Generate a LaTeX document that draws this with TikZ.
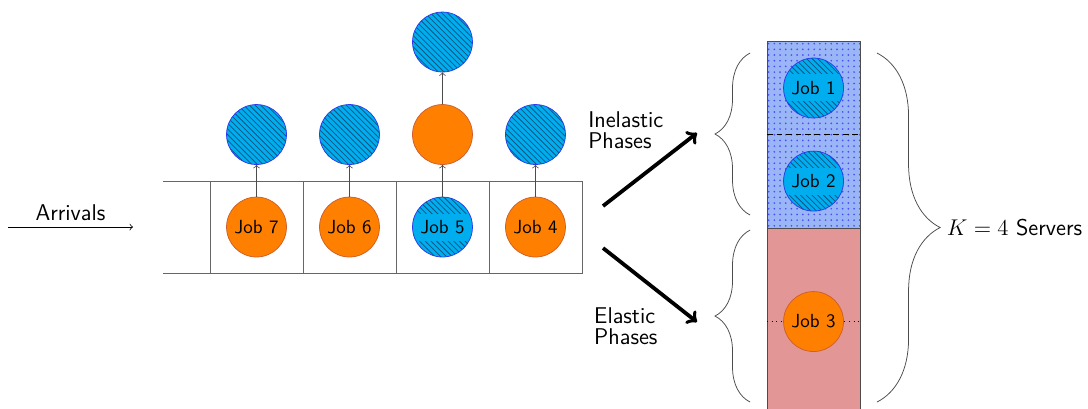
\documentclass[tikz,border=0pt]{standalone}
\usepackage{amsmath}
\usepackage{tikz}
\usetikzlibrary{positioning,decorations.pathreplacing,shapes,arrows,patterns}
\definecolor{jobblue}{RGB}{0,174,239}
\definecolor{hatchblue}{RGB}{10,85,130}
\definecolor{jobedge}{RGB}{45,60,235}
\definecolor{joborange}{RGB}{255,128,0}
\definecolor{orangeedge}{RGB}{205,95,45}
\definecolor{inelfill}{RGB}{155,182,246}
\definecolor{elfill}{RGB}{226,150,150}
\tikzstyle{ela}=[circle, draw=orangeedge, fill=joborange, minimum size=1.11cm, inner sep=0pt]
\tikzstyle{inel}=[circle, draw=jobedge, preaction={fill=jobblue}, pattern=north west lines, pattern color=hatchblue, minimum size=1.11cm, inner sep=0pt]
\tikzstyle{inellab}=[inel, path picture={\fill[jobblue] ([yshift=-0.25cm]path picture bounding box.west) rectangle ([yshift=0.25cm]path picture bounding box.east);}]
\tikzstyle{cell}=[draw=black!60, minimum width=1.722cm, minimum height=1.704cm, inner sep=0pt, outer sep=0pt]
\tikzstyle{inelbox}=[draw=black!70, preaction={fill=inelfill}, pattern=dots, pattern color=blue!70, minimum width=1.722cm, minimum height=3.463cm, inner sep=0pt, outer sep=0pt]
\tikzstyle{elbox}=[draw=black!70, fill=elfill, minimum width=1.722cm, minimum height=3.463cm, inner sep=0pt, outer sep=0pt]
\tikzstyle{brace}=[decorate, black!70]

\begin{document}
\begin{tikzpicture}[node distance=1.722cm,>=to,font=\sffamily]
\useasboundingbox (0,0) rectangle (20.148,7.556);

% queue
\node[cell] at (4.75,3.352) (c7) {};
\node[cell, right of = c7] (c6) {};
\node[cell, right of = c6] (c5) {};
\node[cell, right of = c5] (c4) {};
\draw[black!60] (c7.north west) -- +(-0.87,0);
\draw[black!60] (c7.south west) -- +(-0.87,0);

\node[ela] at (c7) (j7) {Job 7};
\node[ela] at (c6) (j6) {Job 6};
\node[inellab] at (c5) (j5) {Job 5};
\node[ela] at (c4) (j4) {Job 4};

\node[inel, above of = j7, node distance = 1.713cm] (p7) {};
\node[inel, above of = j6, node distance = 1.713cm] (p6) {};
\node[ela, above of = j5, node distance = 1.713cm] (p5) {};
\node[inel, above of = p5, node distance = 1.713cm] (q5) {};
\node[inel, above of = j4, node distance = 1.713cm] (p4) {};
\draw[->,black!70] (j7) -- (p7);
\draw[->,black!70] (j6) -- (p6);
\draw[->,black!70] (j5) -- (p5);
\draw[->,black!70] (p5) -- (q5);
\draw[->,black!70] (j4) -- (p4);

% arrivals
\coordinate (arrin) at (0.148,3.352);
\coordinate (arrout) at (2.463,3.352);
\draw[->] (arrin) -- node[above] {\large Arrivals} (arrout);

% split into phases
\coordinate (splitup) at (11.167,3.741);
\coordinate (inelend) at (12.907,5.093);
\coordinate (splitdown) at (11.167,2.963);
\coordinate (elend) at (12.907,1.593);
\draw[->,line width=2pt] (splitup) -- (inelend);
\draw[->,line width=2pt] (splitdown) -- (elend);
\node[anchor=west, align=left, font=\large\sffamily] at (10.77,5.148) (inellabel) {Inelastic\\[-3pt]Phases};
\node[anchor=west, align=left, font=\large\sffamily] at (10.88,1.52) (ellabel) {Elastic\\[-3pt]Phases};

% servers
\node[inelbox] at (15.065,5.0645) (inel) {};
\node[elbox, below of = inel, node distance = 3.463cm] (el) {};
\draw[densely dashed] (inel.west) -- (inel.east);
\draw[dotted] (el.west) -- (el.east);
\node[inellab, above of = inel, node distance = 0.862cm] (j1) {Job 1};
\node[inellab, below of = inel, node distance = 0.862cm] (j2) {Job 2};
\node[ela] at (el) (j3) {Job 3};

\draw[brace, decoration={brace, amplitude=0.65cm}] (13.89,3.574) -- (13.89,6.574);
\draw[brace, decoration={brace, amplitude=0.65cm}] (13.89,0.111) -- (13.89,3.296);
\draw[brace, decoration={brace, amplitude=1.17cm}] (16.24,6.574) -- (16.24,0.111);
\coordinate (ktip) at (17.41,3.343);
\node[right = 0pt of ktip] (servers) {\large $K=4$ Servers};
\end{tikzpicture}
\end{document}
